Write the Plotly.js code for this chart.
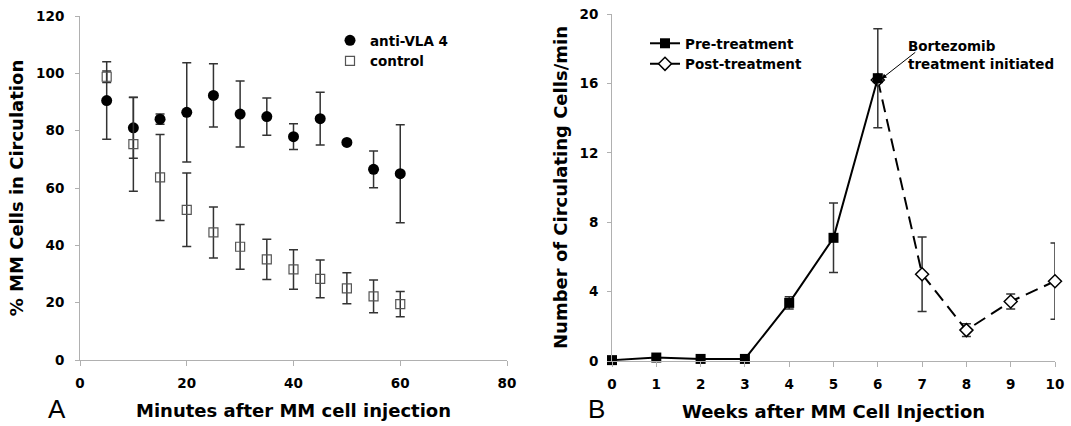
<!DOCTYPE html>
<html>
<head>
<meta charset="utf-8">
<script src="https://cdn.plot.ly/plotly-3.0.1.min.js"></script>
<style>html,body{margin:0;padding:0;background:#fff;}#chart{width:1071px;height:426px;}</style>
</head>
<body>
<div id="chart"></div>
<script>
// Panel A data
var minutes = [5, 10, 15, 20, 25, 30, 35, 40, 45, 50, 55, 60];
var antiVLA4 = [90.5, 81.0, 84.0, 86.4, 92.3, 85.8, 84.9, 77.9, 84.2, 75.9, 66.5, 65.0];
var antiVLA4Err = [13.5, 10.6, 1.8, 17.3, 11.0, 11.5, 6.5, 4.5, 9.2, 0, 6.4, 17.1];
var control = [98.8, 75.3, 63.7, 52.4, 44.5, 39.5, 35.1, 31.6, 28.3, 25.0, 22.2, 19.5];
var controlErr = [2.0, 16.4, 15.0, 12.8, 8.9, 7.8, 7.0, 6.9, 6.6, 5.4, 5.7, 4.4];

// Panel B data
var preWeeks = [0, 1, 2, 3, 4, 5, 6];
var preVals = [0.05, 0.2, 0.12, 0.12, 3.35, 7.1, 16.3];
var preErr = [0.05, 0.1, 0.08, 0.08, 0.35, 2.0, 2.85];
var postWeeks = [6, 7, 8, 9, 10];
var postVals = [16.2, 5.0, 1.78, 3.43, 4.6];
var postErr = [0, 2.15, 0.37, 0.43, 2.2];

var F = 'DejaVu Sans, Verdana, sans-serif';
var W = 1071, H = 426;
function fx(p){ return p / W; }
function fy(p){ return 1 - p / H; }

var errStyle = {type: 'data', visible: true, color: '#333333', thickness: 1.5, width: 4.5};

var traces = [
  {x: minutes, y: antiVLA4, name: 'anti-VLA 4', type: 'scatter', mode: 'markers',
   marker: {symbol: 'circle', size: 11, color: '#000'},
   error_y: Object.assign({array: antiVLA4Err}, errStyle), cliponaxis: false,
   xaxis: 'x', yaxis: 'y', legend: 'legend', legendrank: 1},
  {x: minutes, y: control, name: 'control', type: 'scatter', mode: 'markers',
   marker: {symbol: 'square-open', size: 9, color: '#555555', line: {width: 1.2}},
   error_y: Object.assign({array: controlErr}, errStyle), cliponaxis: false,
   xaxis: 'x', yaxis: 'y', legend: 'legend', legendrank: 2},
  {x: postWeeks, y: postVals, name: 'Post-treatment', type: 'scatter', mode: 'lines+markers',
   line: {color: '#000', width: 2, dash: '13px,7px'},
   marker: {symbol: 'diamond', size: 10, color: '#fff', line: {color: '#000', width: 1.5}},
   error_y: Object.assign({array: postErr}, errStyle), cliponaxis: false,
   xaxis: 'x2', yaxis: 'y2', legend: 'legend2', legendrank: 2},
  {x: preWeeks, y: preVals, name: 'Pre-treatment', type: 'scatter', mode: 'lines+markers',
   line: {color: '#000', width: 2},
   marker: {symbol: 'square', size: 10, color: '#000'},
   error_y: Object.assign({array: preErr}, errStyle), cliponaxis: false,
   xaxis: 'x2', yaxis: 'y2', legend: 'legend2', legendrank: 1}
];

var tickFont = {family: F, size: 13.5, color: '#000', weight: 'bold'};
var titleFont = {family: F, size: 18, color: '#000', weight: 'bold'};
var axCommon = {showgrid: false, zeroline: false, showline: true, linecolor: '#b0b0b0', linewidth: 1,
  ticks: 'outside', tickcolor: '#b0b0b0', tickfont: tickFont, fixedrange: true};

var layout = {
  width: W, height: H,
  margin: {l: 0, r: 0, t: 0, b: 0},
  paper_bgcolor: '#fff', plot_bgcolor: '#fff',
  showlegend: true,
  xaxis: Object.assign({}, axCommon, {domain: [fx(80), fx(507)], range: [0, 80], tickvals: [0, 20, 40, 60, 80],
    ticklen: 5, ticklabelstandoff: 6, anchor: 'y',
    title: {text: 'Minutes after MM cell injection', font: titleFont, standoff: 14}}),
  yaxis: Object.assign({}, axCommon, {domain: [fy(360), fy(16)], range: [0, 120], tickvals: [0, 20, 40, 60, 80, 100, 120],
    ticklen: 4, ticklabelstandoff: 8, anchor: 'x',
    title: {text: '% MM Cells in Circulation', font: titleFont, standoff: 7}}),
  xaxis2: Object.assign({}, axCommon, {domain: [fx(612), fx(1055)], range: [0, 10], tickvals: [0,1,2,3,4,5,6,7,8,9,10],
    ticklen: 5, ticklabelstandoff: 6, anchor: 'y2',
    title: {text: 'Weeks after MM Cell Injection', font: titleFont, standoff: 14}}),
  yaxis2: Object.assign({}, axCommon, {domain: [fy(361), fy(14)], range: [0, 20], tickvals: [0, 4, 8, 12, 16, 20],
    ticklen: 4, ticklabelstandoff: 6, anchor: 'x2',
    title: {text: 'Number of Circulating Cells/min', font: titleFont, standoff: 7}}),
  legend: {x: fx(330), y: fy(25), xanchor: 'left', yanchor: 'top', bgcolor: 'rgba(0,0,0,0)',
    font: {family: F, size: 13.5, color: '#000', weight: 'bold'}, itemwidth: 30, tracegroupgap: 0},
  legend2: {x: fx(645), y: fy(28), xanchor: 'left', yanchor: 'top', bgcolor: 'rgba(0,0,0,0)',
    font: {family: F, size: 13.5, color: '#000', weight: 'bold'}, itemwidth: 30, tracegroupgap: 0},
  annotations: [
    {text: 'A', xref: 'paper', yref: 'paper', x: fx(57), y: fy(409), xanchor: 'center', yanchor: 'middle',
     showarrow: false, font: {family: 'Liberation Sans, Arial, sans-serif', size: 26, color: '#000'}},
    {text: 'B', xref: 'paper', yref: 'paper', x: fx(596), y: fy(409), xanchor: 'center', yanchor: 'middle',
     showarrow: false, font: {family: 'Liberation Sans, Arial, sans-serif', size: 26, color: '#000'}},
    {text: 'Bortezomib<br>treatment initiated', xref: 'paper', yref: 'paper', x: fx(906), y: fy(36),
     xanchor: 'left', yanchor: 'top', align: 'left', showarrow: false,
     font: {family: F, size: 13.5, color: '#000', weight: 'bold'}},
    {text: '', xref: 'x2', yref: 'y2', x: 6.05, y: 16.2, axref: 'x2', ayref: 'y2', ax: 6.88, ay: 17.86,
     showarrow: true, arrowhead: 2, arrowsize: 1, arrowwidth: 1, arrowcolor: '#000', standoff: 2}
  ]
};

Plotly.newPlot('chart', traces, layout, {displayModeBar: false, staticPlot: true});
</script>
</body>
</html>
